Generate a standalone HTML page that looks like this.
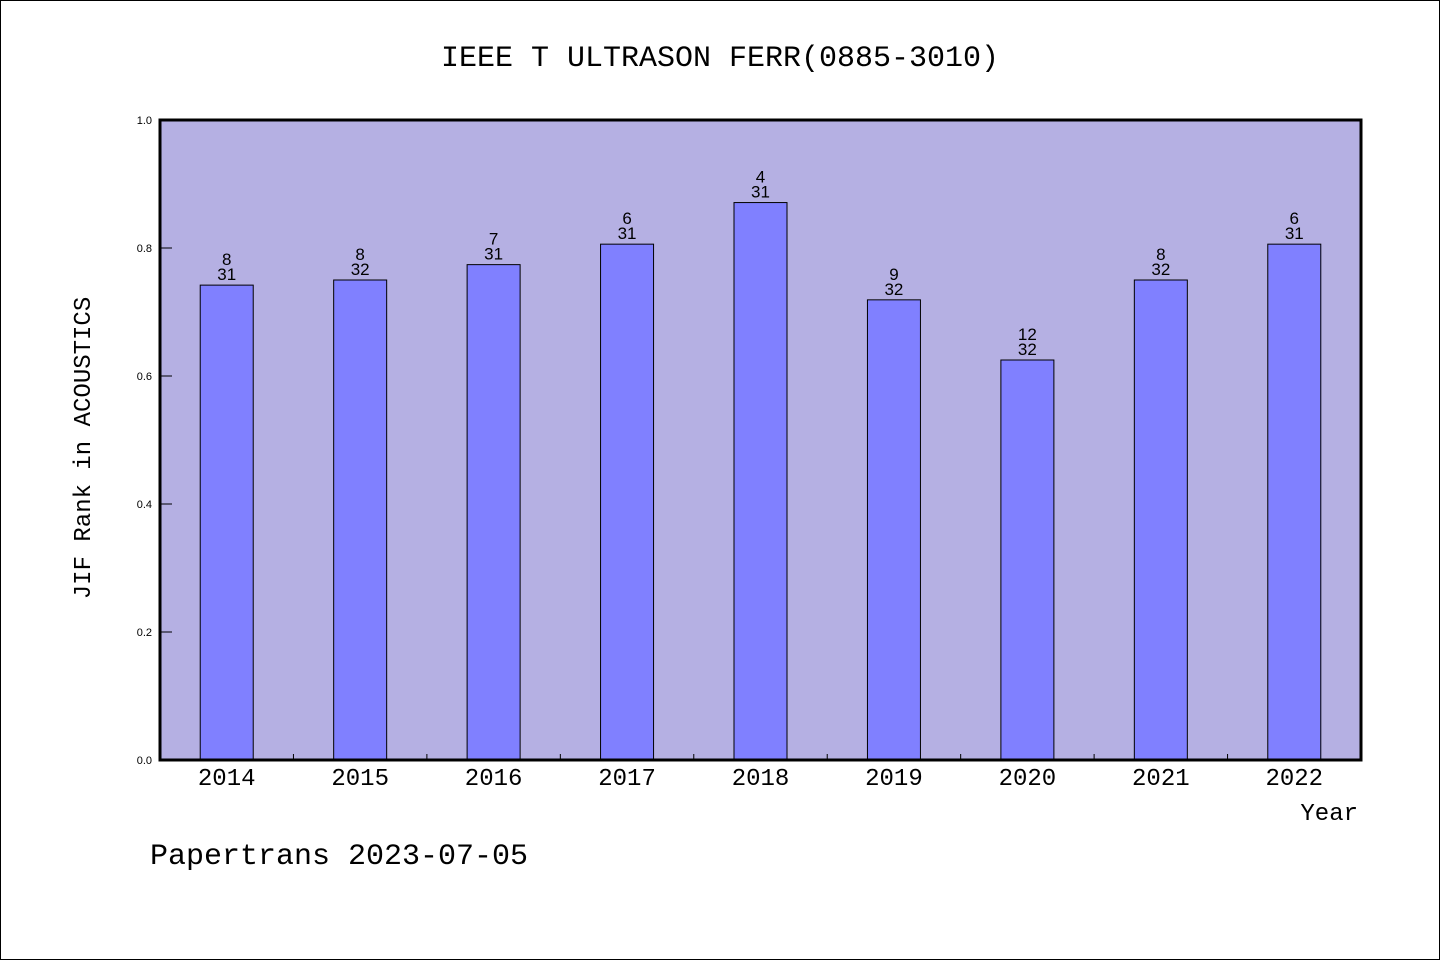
<!DOCTYPE html>
<html><head><meta charset="utf-8"><style>
html,body{margin:0;padding:0;background:#fff}
svg{display:block}
text{font-family:"Liberation Mono","DejaVu Sans Mono",monospace;fill:#000}
text.sans{font-family:"Liberation Sans","DejaVu Sans",sans-serif}
</style></head><body>
<svg id="chart" width="1440" height="960" xmlns="http://www.w3.org/2000/svg">
<rect x="0.5" y="0.5" width="1439" height="959" fill="#fff" stroke="#000"/>
<text x="720" y="66" font-size="30" text-anchor="middle">IEEE T ULTRASON FERR(0885-3010)</text>
<rect x="160" y="120" width="1201" height="640" fill="#b5b0e3"/>
<g id="bars"></g>
<g id="axes"></g>
<rect x="160" y="120" width="1201" height="640" fill="none" stroke="#000" stroke-width="3"/>
<text x="90" y="448" font-size="24" text-anchor="middle" transform="rotate(-90 90 448)">JIF Rank in ACOUSTICS</text>
<text x="1358" y="820" font-size="24" text-anchor="end">Year</text>
<text x="150" y="864" font-size="30">Papertrans 2023-07-05</text>
</svg>
<script>
const categories=["2014","2015","2016","2017","2018","2019","2020","2021","2022"];
const ranks=[8,8,7,6,4,9,12,8,6];
const totals=[31,32,31,31,31,32,32,32,31];
const values=[0.742,0.75,0.774,0.806,0.871,0.719,0.625,0.75,0.806];
const yTicks=[0,0.2,0.4,0.6,0.8,1.0];
const yTickLabels=["0.0","0.2","0.4","0.6","0.8","1.0"];
const NS="http://www.w3.org/2000/svg";
const L=160,R=1361,T=120,B=760;
const band=(R-L)/categories.length;
const xs=i=>L+band*(i+0.5);
const ys=v=>B-v*(B-T);
function mk(tag,attrs,parent,txt){const e=document.createElementNS(NS,tag);for(const k in attrs)e.setAttribute(k,attrs[k]);if(txt!==undefined)e.textContent=txt;parent.appendChild(e);return e;}
const bars=document.getElementById('bars'),axes=document.getElementById('axes');
const bw=53;
categories.forEach((c,i)=>{
  const y=ys(values[i]);
  const r=mk('rect',{x:xs(i)-bw/2,y:y,width:bw,height:B-y,fill:'#8080ff',stroke:'#000','stroke-width':1},bars);
  
  
  const t1=mk('text',{x:xs(i),y:y-20,'font-size':17,'text-anchor':'middle','class':'sans'},bars,String(ranks[i]));
  
  
  const t2=mk('text',{x:xs(i),y:y-5,'font-size':17,'text-anchor':'middle','class':'sans'},bars,String(totals[i]));
  
  
  const xl=mk('text',{x:xs(i),y:785,'font-size':24,'text-anchor':'middle'},axes,c);
  
  
  if(i>0){const tk=mk('line',{x1:L+band*i,x2:L+band*i,y1:B-6,y2:B,stroke:'#000'},axes);
    
    }
});
yTicks.forEach((v,i)=>{
  const y=ys(v);
  const tk=mk('line',{x1:L,x2:L+12,y1:y,y2:y,stroke:'#000'},axes);
  
  
  const tl=mk('text',{x:152,y:y+4,'font-size':11,'text-anchor':'end','class':'sans'},axes,yTickLabels[i]);
  
  
});
</script>
</body></html>
